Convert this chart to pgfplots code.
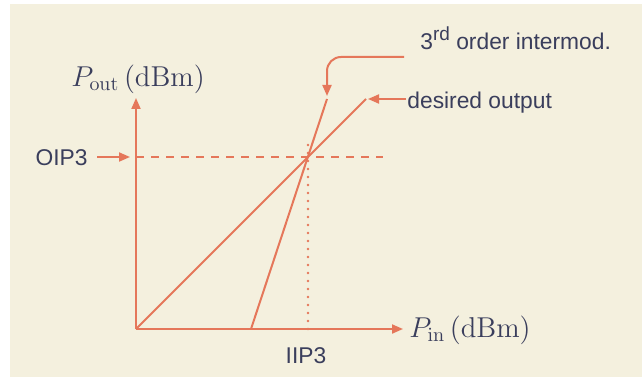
\documentclass[border=0pt]{standalone}
\usepackage[no-math]{fontspec}
\usepackage{pgfplots}
\pgfplotsset{compat=1.18}
\usetikzlibrary{arrows.meta}
\newfontfamily\labfont{Liberation Sans}
\definecolor{bgcol}{HTML}{F4F0DE}
\definecolor{linecol}{HTML}{E5775A}
\definecolor{txtcol}{HTML}{3A3E5C}
\begin{document}
\begin{tikzpicture}
\begin{axis}[
    width=321bp, height=188.5bp, scale only axis,
    xmin=0, xmax=642, ymin=0, ymax=377,
    y dir=reverse,
    hide axis, clip=false,
]
% background
\fill[white] (axis cs:0,0) rectangle (axis cs:642,377);
\fill[bgcol] (axis cs:10,4) rectangle (axis cs:642,377);

\tikzset{
  ln/.style={linecol, line width=1bp},
  tip/.style={ln, -{Triangle[length=5.5bp,width=4.5bp]}},
}

% axes
\addplot[tip] coordinates {(136,329) (403,329)};
\addplot[tip] coordinates {(136,329) (136,98)};

% OIP3 / IIP3 guides
\addplot[ln, dash pattern=on 4bp off 3.5bp] coordinates {(136,157) (383,157)};
\addplot[ln, line width=1.4bp, line cap=round, dash pattern=on 0bp off 4bp] coordinates {(308,329) (308,143)};

% desired output (slope 1) and 3rd order intermod (slope 3)
\addplot[ln] coordinates {(136,329) (366,99)};
\addplot[ln] coordinates {(251,329) (327,99)};

% annotation arrows
\draw[tip] (axis cs:97,157) -- (axis cs:130,157);
\draw[tip] (axis cs:406,99) -- (axis cs:368,99);
\draw[tip, rounded corners=7bp]
    (axis cs:404,57) -- (axis cs:327,57) -- (axis cs:327,96);

% labels
\node[txtcol, anchor=base west, inner sep=0pt, font=\fontsize{14.3bp}{16bp}\selectfont]
    at (axis cs:71,86) {$P_{\mathrm{out}}\,(\mathrm{dBm})$};
\node[txtcol, anchor=base west, inner sep=0pt, font=\fontsize{14.3bp}{16bp}\selectfont]
    at (axis cs:409,337) {$P_{\mathrm{in}}\,(\mathrm{dBm})$};
\node[txtcol, anchor=base east, inner sep=0pt, font=\labfont\fontsize{11.4bp}{13bp}\selectfont]
    at (axis cs:88,165) {OIP3};
\node[txtcol, anchor=base, inner sep=0pt, font=\labfont\fontsize{11.4bp}{13bp}\selectfont]
    at (axis cs:306,363) {IIP3};
\node[txtcol, anchor=base west, inner sep=0pt, font=\labfont\fontsize{11.4bp}{13bp}\selectfont]
    at (axis cs:407,108) {desired output};
\node[txtcol, anchor=base west, inner sep=0pt, font=\labfont\fontsize{11.4bp}{13bp}\selectfont]
    at (axis cs:420,50) {3{\raisebox{0.8ex}{\fontsize{9.5bp}{10bp}\selectfont rd}} order intermod.};
\end{axis}
\end{tikzpicture}
\end{document}
